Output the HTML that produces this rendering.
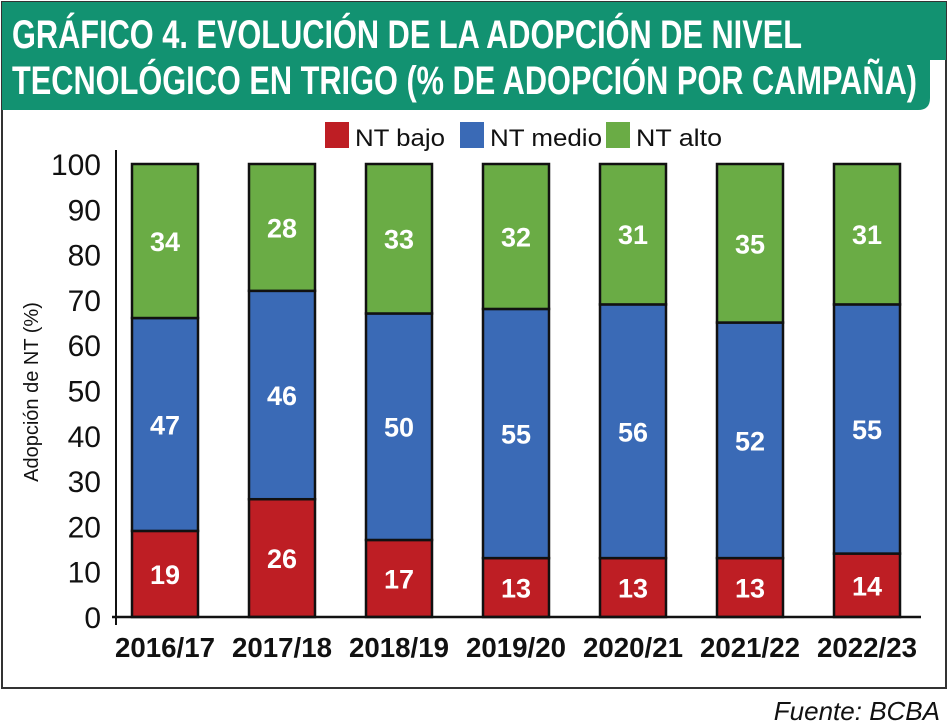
<!DOCTYPE html>
<html><head><meta charset="utf-8"><style>
html,body{margin:0;padding:0;background:#fff;}
svg{display:block;font-family:"Liberation Sans",sans-serif;}
</style></head><body>
<svg id="chart" width="949" height="724" viewBox="0 0 949 724">
<rect x="2" y="2" width="944" height="686" fill="#fff" stroke="#333" stroke-width="2"/>
<path d="M2,2 H946 V60 H930 V98 Q930,110 918,110 H2 Z" fill="#129271"/>
<text x="12" y="48" font-size="40" font-weight="bold" fill="#fff" textLength="790" lengthAdjust="spacingAndGlyphs">GRÁFICO 4. EVOLUCIÓN DE LA ADOPCIÓN DE NIVEL</text>
<text x="12" y="94" font-size="40" font-weight="bold" fill="#fff" textLength="905" lengthAdjust="spacingAndGlyphs">TECNOLÓGICO EN TRIGO (% DE ADOPCIÓN POR CAMPAÑA)</text>
<g>
<rect x="325" y="122" width="24" height="26" fill="#be1e24"/>
<text x="355" y="146" font-size="24" fill="#111" textLength="90" lengthAdjust="spacingAndGlyphs">NT bajo</text>
<rect x="460" y="122" width="24" height="26" fill="#3a6ab6"/>
<text x="490" y="146" font-size="24" fill="#111" textLength="112" lengthAdjust="spacingAndGlyphs">NT medio</text>
<rect x="606" y="122" width="24" height="26" fill="#6aac45"/>
<text x="636" y="146" font-size="24" fill="#111" textLength="86" lengthAdjust="spacingAndGlyphs">NT alto</text>
</g>
<text transform="translate(38,392) rotate(-90)" text-anchor="middle" font-size="20" fill="#111">Adopción de NT (%)</text>
<g id="plot"></g>
<text x="940" y="720" text-anchor="end" font-size="26" font-style="italic" fill="#111">Fuente: BCBA</text>
</svg>
<script>
const categories = ["2016/17","2017/18","2018/19","2019/20","2020/21","2021/22","2022/23"];
const bajo = [19,26,17,13,13,13,14];
const medio = [47,46,50,55,56,52,55];
const alto = [34,28,33,32,31,35,31];
const yTicks = [0,10,20,30,40,50,60,70,80,90,100];

const NS="http://www.w3.org/2000/svg";
const plot=document.getElementById('plot');
const y0=617, y100=164, xLeft=116, xRight=921;
function y(v){return y0-(y0-y100)*v/100;}
function xc(i){return 165+i*117;}
const bw=66;
function mk(tag,attrs){const e=document.createElementNS(NS,tag);for(const k in attrs)e.setAttribute(k,attrs[k]);plot.appendChild(e);return e;}

yTicks.forEach(t=>{
  const e=mk('text',{x:101,y:y(t)+11,'text-anchor':'end','font-size':'30',fill:'#111'});
  e.textContent=t;
  
  
});
const series=[{d:bajo,c:'#be1e24',n:'bajo'},{d:medio,c:'#3a6ab6',n:'medio'},{d:alto,c:'#6aac45',n:'alto'}];
categories.forEach((cat,i)=>{
  let base=0;
  series.forEach(s=>{
    const v=s.d[i];
    const top=base+v;
    const r=mk('rect',{x:xc(i)-bw/2,y:y(top),width:bw,height:y(base)-y(top),fill:s.c,stroke:'#111','stroke-width':'2.5'});
    
    
    const t=mk('text',{x:xc(i),y:(y(top)+y(base))/2+10,'text-anchor':'middle','font-size':'27','font-weight':'bold',fill:'#fff'});
    t.textContent=v;
    
    
    base=top;
  });
  const xl=mk('text',{x:xc(i),y:657,'text-anchor':'middle','font-size':'28','font-weight':'bold',fill:'#111',textLength:'100',lengthAdjust:'spacingAndGlyphs'});
  xl.textContent=cat;
  
  
});
const ya=mk('line',{x1:xLeft,y1:150,x2:xLeft,y2:625,stroke:'#111','stroke-width':'2'});


const xa=mk('line',{x1:112,y1:y0,x2:xRight,y2:y0,stroke:'#111','stroke-width':'2.5'});


</script>
</body></html>
